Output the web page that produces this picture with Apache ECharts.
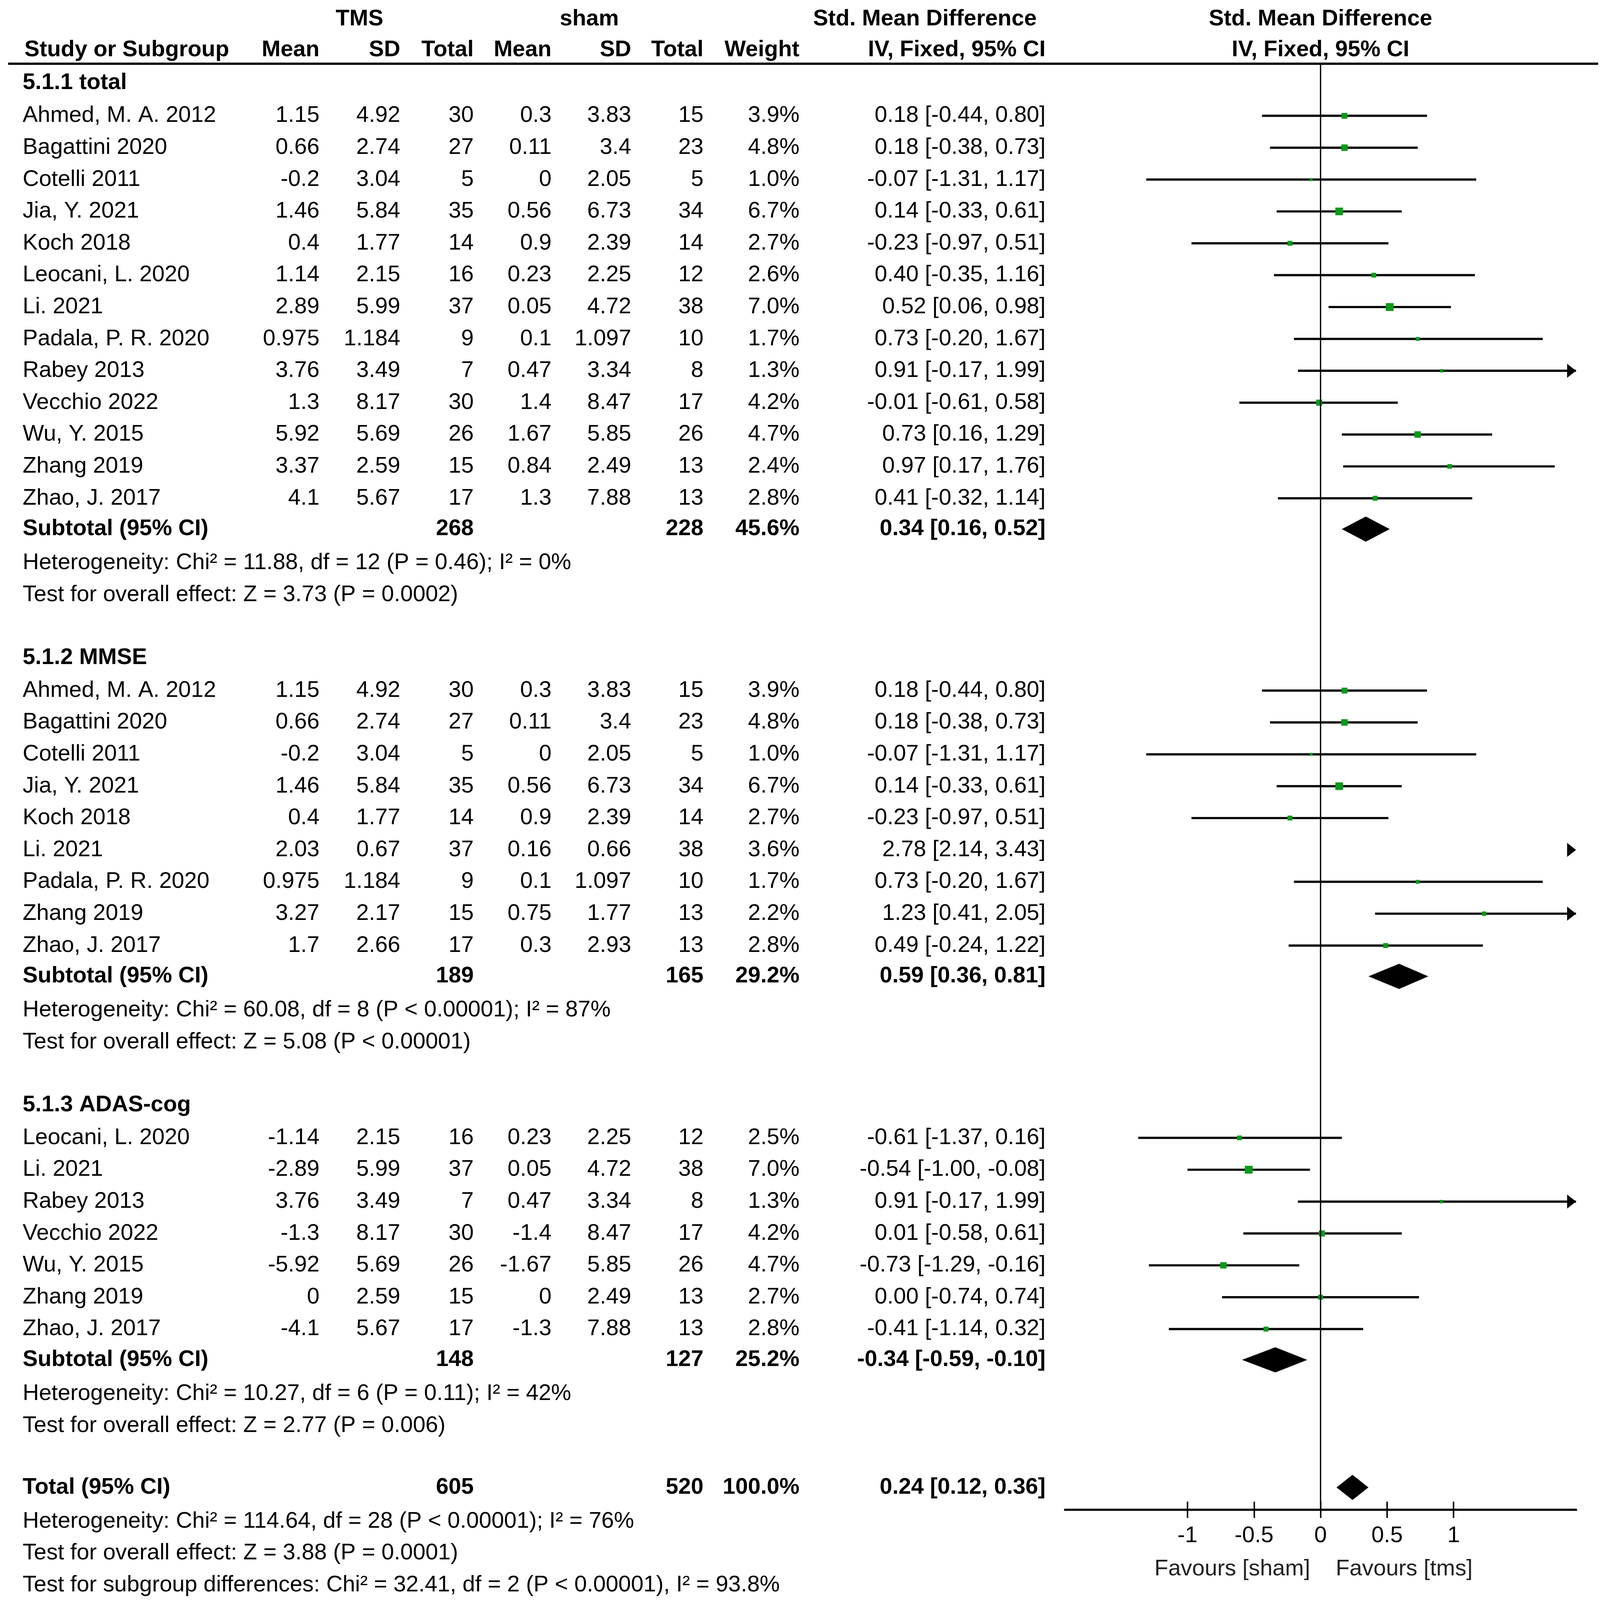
<!DOCTYPE html>
<html><head><meta charset="utf-8">
<script src="https://cdn.jsdelivr.net/npm/echarts@6/dist/echarts.min.js"></script>
<style>html,body{margin:0;padding:0;background:#fff;overflow:hidden}#c{width:100vw;height:100vh}</style>
</head><body><div id="c"></div>
<script>
// ---------------- DATA ----------------
// [study, TMS mean, TMS SD, TMS N, sham mean, sham SD, sham N, weight %, SMD, lower, upper]
const totalRows = [
  ['Ahmed, M. A. 2012', '1.15', '4.92', 30, '0.3', '3.83', 15, 3.9, 0.18, -0.44, 0.80],
  ['Bagattini 2020', '0.66', '2.74', 27, '0.11', '3.4', 23, 4.8, 0.18, -0.38, 0.73],
  ['Cotelli 2011', '-0.2', '3.04', 5, '0', '2.05', 5, 1.0, -0.07, -1.31, 1.17],
  ['Jia, Y. 2021', '1.46', '5.84', 35, '0.56', '6.73', 34, 6.7, 0.14, -0.33, 0.61],
  ['Koch 2018', '0.4', '1.77', 14, '0.9', '2.39', 14, 2.7, -0.23, -0.97, 0.51],
  ['Leocani, L. 2020', '1.14', '2.15', 16, '0.23', '2.25', 12, 2.6, 0.40, -0.35, 1.16],
  ['Li. 2021', '2.89', '5.99', 37, '0.05', '4.72', 38, 7.0, 0.52, 0.06, 0.98],
  ['Padala, P. R. 2020', '0.975', '1.184', 9, '0.1', '1.097', 10, 1.7, 0.73, -0.20, 1.67],
  ['Rabey 2013', '3.76', '3.49', 7, '0.47', '3.34', 8, 1.3, 0.91, -0.17, 1.99],
  ['Vecchio 2022', '1.3', '8.17', 30, '1.4', '8.47', 17, 4.2, -0.01, -0.61, 0.58],
  ['Wu, Y. 2015', '5.92', '5.69', 26, '1.67', '5.85', 26, 4.7, 0.73, 0.16, 1.29],
  ['Zhang 2019', '3.37', '2.59', 15, '0.84', '2.49', 13, 2.4, 0.97, 0.17, 1.76],
  ['Zhao, J. 2017', '4.1', '5.67', 17, '1.3', '7.88', 13, 2.8, 0.41, -0.32, 1.14]
];
const totalSub = [268, 228, 45.6, 0.34, 0.16, 0.52];
const totalHet = 'Heterogeneity: Chi² = 11.88, df = 12 (P = 0.46); I² = 0%';
const totalTest = 'Test for overall effect: Z = 3.73 (P = 0.0002)';

const mmseRows = [
  ['Ahmed, M. A. 2012', '1.15', '4.92', 30, '0.3', '3.83', 15, 3.9, 0.18, -0.44, 0.80],
  ['Bagattini 2020', '0.66', '2.74', 27, '0.11', '3.4', 23, 4.8, 0.18, -0.38, 0.73],
  ['Cotelli 2011', '-0.2', '3.04', 5, '0', '2.05', 5, 1.0, -0.07, -1.31, 1.17],
  ['Jia, Y. 2021', '1.46', '5.84', 35, '0.56', '6.73', 34, 6.7, 0.14, -0.33, 0.61],
  ['Koch 2018', '0.4', '1.77', 14, '0.9', '2.39', 14, 2.7, -0.23, -0.97, 0.51],
  ['Li. 2021', '2.03', '0.67', 37, '0.16', '0.66', 38, 3.6, 2.78, 2.14, 3.43],
  ['Padala, P. R. 2020', '0.975', '1.184', 9, '0.1', '1.097', 10, 1.7, 0.73, -0.20, 1.67],
  ['Zhang 2019', '3.27', '2.17', 15, '0.75', '1.77', 13, 2.2, 1.23, 0.41, 2.05],
  ['Zhao, J. 2017', '1.7', '2.66', 17, '0.3', '2.93', 13, 2.8, 0.49, -0.24, 1.22]
];
const mmseSub = [189, 165, 29.2, 0.59, 0.36, 0.81];
const mmseHet = 'Heterogeneity: Chi² = 60.08, df = 8 (P < 0.00001); I² = 87%';
const mmseTest = 'Test for overall effect: Z = 5.08 (P < 0.00001)';

const adasRows = [
  ['Leocani, L. 2020', '-1.14', '2.15', 16, '0.23', '2.25', 12, 2.5, -0.61, -1.37, 0.16],
  ['Li. 2021', '-2.89', '5.99', 37, '0.05', '4.72', 38, 7.0, -0.54, -1.00, -0.08],
  ['Rabey 2013', '3.76', '3.49', 7, '0.47', '3.34', 8, 1.3, 0.91, -0.17, 1.99],
  ['Vecchio 2022', '-1.3', '8.17', 30, '-1.4', '8.47', 17, 4.2, 0.01, -0.58, 0.61],
  ['Wu, Y. 2015', '-5.92', '5.69', 26, '-1.67', '5.85', 26, 4.7, -0.73, -1.29, -0.16],
  ['Zhang 2019', '0', '2.59', 15, '0', '2.49', 13, 2.7, 0.00, -0.74, 0.74],
  ['Zhao, J. 2017', '-4.1', '5.67', 17, '-1.3', '7.88', 13, 2.8, -0.41, -1.14, 0.32]
];
const adasSub = [148, 127, 25.2, -0.34, -0.59, -0.10];
const adasHet = 'Heterogeneity: Chi² = 10.27, df = 6 (P = 0.11); I² = 42%';
const adasTest = 'Test for overall effect: Z = 2.77 (P = 0.006)';

const overall = [605, 520, 100.0, 0.24, 0.12, 0.36];
const overallNotes = [
  'Heterogeneity: Chi² = 114.64, df = 28 (P < 0.00001); I² = 76%',
  'Test for overall effect: Z = 3.88 (P = 0.0001)',
  'Test for subgroup differences: Chi² = 32.41, df = 2 (P < 0.00001), I² = 93.8%'
];
const sectionTitles = ['5.1.1 total', '5.1.2 MMSE', '5.1.3 ADAS-cog'];
const xTicks = [-1, -0.5, 0, 0.5, 1];
const favoursLeft = 'Favours [sham]';
const favoursRight = 'Favours [tms]';

// ---------------- LAYOUT (reference pixels, scaled to viewport) ----------------
const W = 4317, H = 4149;
const VW = window.innerWidth || W, VH = window.innerHeight || H;
const SX = VW / W, SY = VH / H, S = Math.min(SX, SY);
const UNITS = 50.2, LINE = H / UNITS;
const FONT = "'Liberation Sans', Arial, Helvetica, sans-serif";
const FS = 61 * S;
const XMIN = -1.92, XMAX = 1.92;
const ZERO_PX = 3563, UNIT_PX = 359;
const FL = (ZERO_PX + XMIN * UNIT_PX) * SX, FR = (W - (ZERO_PX + XMAX * UNIT_PX)) * SX;
const Y_TOP = 2.0, Y_AXIS = 47.37;
const COL = {name: 61, m1: 862, sd1: 1080, n1: 1278, m2: 1488, sd2: 1703, n2: 1898, w: 2157, ci: 2821};
const HEAD_TO_ROW = 31/30, ROW_TO_SUB = 29/30, SUB_TO_HET = 32/30, GAP = 59/30;

const texts = [], ciData = [], diaData = [];
function T(x, y, t, a, b, c) { texts.push({x, y, t, a, b, c}); }
const fmtCI = (e, l, h) => e.toFixed(2) + ' [' + l.toFixed(2) + ', ' + h.toFixed(2) + ']';

// header
T(970, 0.6, 'TMS', 'center', true);
T(1590, 0.6, 'sham', 'center', true);
T(2797, 0.6, 'Std. Mean Difference', 'right', true);
T(ZERO_PX, 0.6, 'Std. Mean Difference', 'center', true);
const hy = 47/30;
T(66, hy, 'Study or Subgroup', 'left', true);
T(COL.m1, hy, 'Mean', 'right', true);
T(COL.sd1, hy, 'SD', 'right', true);
T(COL.n1, hy, 'Total', 'right', true);
T(COL.m2, hy, 'Mean', 'right', true);
T(COL.sd2, hy, 'SD', 'right', true);
T(COL.n2, hy, 'Total', 'right', true);
T(COL.w, hy, 'Weight', 'right', true);
T(COL.ci, hy, 'IV, Fixed, 95% CI', 'right', true);
T(ZERO_PX, hy, 'IV, Fixed, 95% CI', 'center', true);

const sections = [
  [sectionTitles[0], totalRows, totalSub, totalHet, totalTest],
  [sectionTitles[1], mmseRows, mmseSub, mmseHet, mmseTest],
  [sectionTitles[2], adasRows, adasSub, adasHet, adasTest]
];
let y = 2.6;
sections.forEach((s, si) => {
  if (si > 0) y += GAP;
  T(COL.name, y, s[0], 'left', true);
  y += HEAD_TO_ROW;
  s[1].forEach((r, i) => {
    if (i > 0) y += 1;
    T(COL.name, y, r[0], 'left');
    T(COL.m1, y, r[1], 'right');
    T(COL.sd1, y, r[2], 'right');
    T(COL.n1, y, String(r[3]), 'right');
    T(COL.m2, y, r[4], 'right');
    T(COL.sd2, y, r[5], 'right');
    T(COL.n2, y, String(r[6]), 'right');
    T(COL.w, y, r[7].toFixed(1) + '%', 'right');
    T(COL.ci, y, fmtCI(r[8], r[9], r[10]), 'right');
    ciData.push([r[8], r[9], r[10], y, r[7]]);
  });
  y += ROW_TO_SUB;
  const sb = s[2];
  T(COL.name, y, 'Subtotal (95% CI)', 'left', true);
  T(COL.n1, y, String(sb[0]), 'right', true);
  T(COL.n2, y, String(sb[1]), 'right', true);
  T(COL.w, y, sb[2].toFixed(1) + '%', 'right', true);
  T(COL.ci, y, fmtCI(sb[3], sb[4], sb[5]), 'right', true);
  diaData.push([sb[3], sb[4], sb[5], y]);
  y += SUB_TO_HET; T(COL.name, y, s[3], 'left');
  y += 1; T(COL.name, y, s[4], 'left');
});
y += 58/30;
T(COL.name, y, 'Total (95% CI)', 'left', true);
T(COL.n1, y, String(overall[0]), 'right', true);
T(COL.n2, y, String(overall[1]), 'right', true);
T(COL.w, y, overall[2].toFixed(1) + '%', 'right', true);
T(COL.ci, y, fmtCI(overall[3], overall[4], overall[5]), 'right', true);
diaData.push([overall[3], overall[4], overall[5], y]);
y += SUB_TO_HET; T(COL.name, y, overallNotes[0], 'left');
y += 1; T(COL.name, y, overallNotes[1], 'left');
y += 1; T(COL.name, y, overallNotes[2], 'left');
T(3535, 1477/30, favoursLeft, 'right', false, '#222');
T(3604, 1477/30, favoursRight, 'left', false, '#222');

// ---------------- CHART ----------------
const chart = echarts.init(document.getElementById('c'), null, {renderer: 'canvas'});
const tickStyle = {color: '#000', width: 4 * S};
const option = {
  animation: false,
  backgroundColor: '#fff',
  grid: [
    {left: 0, right: 0, top: 0, bottom: 0},
    {left: FL, right: FR, top: Y_TOP * LINE * SY, bottom: (H - Y_AXIS * LINE) * SY}
  ],
  xAxis: [
    {gridIndex: 0, type: 'value', min: 0, max: W, show: false},
    {gridIndex: 1, type: 'value', min: XMIN, max: XMAX, position: 'bottom',
      axisLine: {show: true, onZero: false, lineStyle: {color: '#000', width: 6 * S}},
      axisTick: {show: true, inside: false, length: 22 * S, lineStyle: tickStyle, customValues: xTicks},
      axisLabel: {show: true, margin: 40 * S, customValues: xTicks, formatter: v => String(v),
        fontSize: FS, fontFamily: FONT, color: '#000'},
      splitLine: {show: false}},
    {gridIndex: 1, type: 'value', min: XMIN, max: XMAX, position: 'bottom', offset: 0,
      axisLine: {show: false, onZero: false},
      axisTick: {show: true, inside: true, length: 22 * S, lineStyle: tickStyle, customValues: xTicks},
      axisLabel: {show: false}, splitLine: {show: false}}
  ],
  yAxis: [
    {gridIndex: 0, type: 'value', min: 0, max: UNITS, inverse: true, show: false},
    {gridIndex: 1, type: 'value', min: Y_TOP, max: Y_AXIS, inverse: true, show: false}
  ],
  series: [
    { // header rule
      type: 'custom', xAxisIndex: 0, yAxisIndex: 0, silent: true,
      data: [[0, Y_TOP]],
      renderItem: (p, api) => {
        const a = api.coord([22, Y_TOP]), b = api.coord([4312, Y_TOP]);
        return {type: 'line', shape: {x1: a[0], y1: a[1], x2: b[0], y2: b[1]},
          style: {stroke: '#000', lineWidth: 6 * S}};
      }
    },
    { // table text
      type: 'custom', xAxisIndex: 0, yAxisIndex: 0, silent: true,
      data: texts.map(t => [t.x, t.y]),
      renderItem: (p, api) => {
        const t = texts[p.dataIndex];
        const pt = api.coord([t.x, t.y]);
        return {type: 'text', x: pt[0], y: pt[1],
          style: {text: t.t, fill: t.c || '#000',
            font: (t.b ? 'bold ' : '') + FS + 'px ' + FONT,
            textAlign: t.a, textVerticalAlign: 'middle', align: t.a, verticalAlign: 'middle'}};
      }
    },
    { // line of no effect
      type: 'line', xAxisIndex: 1, yAxisIndex: 1, silent: true, symbol: 'none',
      data: [[0, Y_TOP], [0, Y_AXIS]],
      lineStyle: {color: '#000', width: 3.5 * S}
    },
    { // study CIs and squares
      type: 'custom', xAxisIndex: 1, yAxisIndex: 1, silent: true,
      data: ciData,
      renderItem: (p, api) => {
        const est = api.value(0), lo = api.value(1), hi = api.value(2), yy = api.value(3), w = api.value(4);
        const ch = [];
        const AW = 24 * S, AH = 19 * S;
        if (hi > XMIN && lo < XMAX) {
          const a = api.coord([Math.max(lo, XMIN), yy]);
          const b = api.coord([Math.min(hi, XMAX), yy]);
          ch.push({type: 'line', shape: {x1: a[0], y1: a[1], x2: b[0], y2: b[1]},
            style: {stroke: '#000', lineWidth: 6 * S}});
        }
        if (hi > XMAX) {
          const t = api.coord([XMAX, yy]);
          ch.push({type: 'polygon', shape: {points: [[t[0], t[1]], [t[0] - AW, t[1] - AH], [t[0] - AW, t[1] + AH]]},
            style: {fill: '#000'}});
        }
        if (lo < XMIN) {
          const t = api.coord([XMIN, yy]);
          ch.push({type: 'polygon', shape: {points: [[t[0], t[1]], [t[0] + AW, t[1] - AH], [t[0] + AW, t[1] + AH]]},
            style: {fill: '#000'}});
        }
        if (est >= XMIN && est <= XMAX) {
          const c = api.coord([est, yy]);
          const s = 8 * Math.sqrt(w) * S;
          ch.push({type: 'rect', shape: {x: c[0] - s / 2, y: c[1] - s / 2, width: s, height: s},
            style: {fill: '#0a9a1a'}});
        }
        return {type: 'group', children: ch};
      }
    },
    { // pooled diamonds
      type: 'custom', xAxisIndex: 1, yAxisIndex: 1, silent: true,
      data: diaData,
      renderItem: (p, api) => {
        const est = api.value(0), lo = api.value(1), hi = api.value(2), yy = api.value(3);
        const L = api.coord([lo, yy]), C = api.coord([est, yy]), R = api.coord([hi, yy]);
        const hh = 34 * S;
        return {type: 'polygon', shape: {points: [[L[0], L[1]], [C[0], C[1] - hh], [R[0], R[1]], [C[0], C[1] + hh]]},
          style: {fill: '#000'}};
      }
    }
  ]
};
chart.setOption(option);
</script>
</body></html>
